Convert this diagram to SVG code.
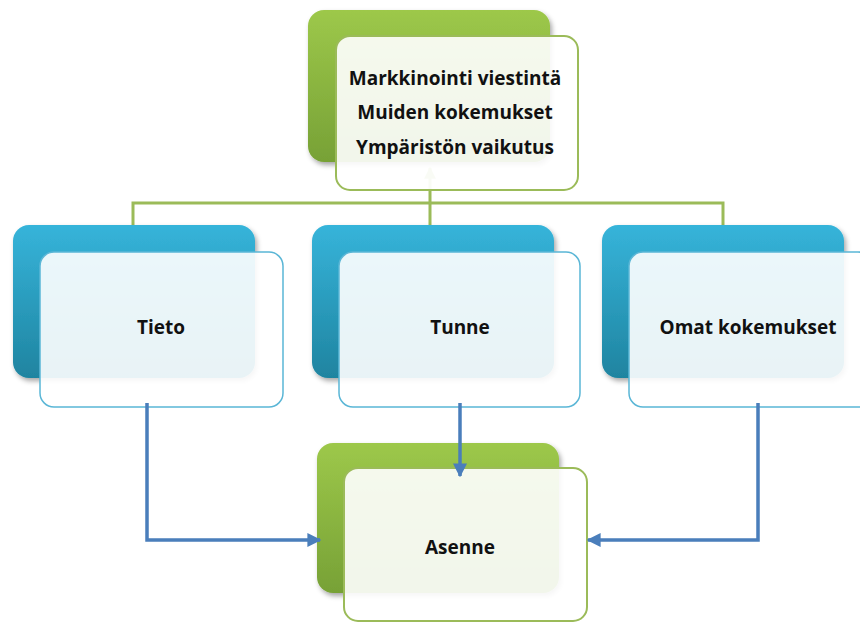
<svg xmlns="http://www.w3.org/2000/svg" width="860" height="624" viewBox="0 0 860 624">
<defs>
<linearGradient id="gGreen" x1="0" y1="0" x2="0" y2="1"><stop offset="0" stop-color="#9dc84a"/><stop offset="1" stop-color="#77a136"/></linearGradient>
<linearGradient id="gBlue" x1="0" y1="0" x2="0" y2="1"><stop offset="0" stop-color="#36b4da"/><stop offset="1" stop-color="#1f84a0"/></linearGradient>
<filter id="sh" x="-10%" y="-10%" width="125%" height="125%"><feDropShadow dx="2" dy="3" stdDeviation="2.5" flood-color="#000" flood-opacity="0.35"/></filter>
<marker id="ah" viewBox="0 0 10 10" refX="9" refY="5" markerWidth="4" markerHeight="4" orient="auto" markerUnits="strokeWidth"><path d="M0,0 L10,5 L0,10 z" fill="#4a7ebb"/></marker>
<marker id="ahg" viewBox="0 0 10 10" refX="9" refY="5" markerWidth="4" markerHeight="4" orient="auto" markerUnits="strokeWidth"><path d="M0,0 L10,5 L0,10 z" fill="#9bbb59"/></marker>
<style>
.bg{fill:url(#gGreen);filter:url(#sh)}
.bb{fill:url(#gBlue);filter:url(#sh)}
.fg{fill:#ffffff;fill-opacity:0.9;stroke:#9bbb59;stroke-width:2}
.fb{fill:#ffffff;fill-opacity:0.9;stroke:#5ab6d6;stroke-width:1.5}
.t{font-family:"Open Sans","Liberation Sans",sans-serif;font-weight:bold;font-size:19px;fill:#111;text-anchor:middle}
.cg{fill:none;stroke:#9bbb59;stroke-width:3}
.cb{fill:none;stroke:#4a7ebb;stroke-width:3.5}
</style>
</defs>
<g id="connectors-top">
<path class="cg" d="M430,190 V203 M133,225 V203 H723 V225 M430,203 V225"/>
<path class="cg" d="M430,190 V168" marker-end="url(#ahg)" opacity="0.6"/>
</g>
<g id="node-top">
<rect class="bg" x="308" y="10" width="242" height="152" rx="16"/>
<rect class="fg" x="336" y="36" width="242" height="154" rx="14"/>
<text class="t" x="455" y="85">Markkinointi viestintä</text>
<text class="t" x="455" y="119">Muiden kokemukset</text>
<text class="t" x="455" y="154">Ympäristön vaikutus</text>
</g>
<g id="node-tieto">
<rect class="bb" x="13" y="225" width="242" height="153" rx="16"/>
<rect class="fb" x="40" y="252" width="243" height="155" rx="14"/>
<text class="t" x="161" y="334">Tieto</text>
</g>
<g id="node-tunne">
<rect class="bb" x="312" y="225" width="242" height="153" rx="16"/>
<rect class="fb" x="339" y="252" width="241" height="155" rx="14"/>
<text class="t" x="460" y="334">Tunne</text>
</g>
<g id="node-omat">
<rect class="bb" x="602" y="225" width="242" height="153" rx="16"/>
<rect class="fb" x="629" y="252" width="243" height="155" rx="14"/>
<text class="t" x="748" y="334">Omat kokemukset</text>
</g>
<g id="node-asenne">
<rect class="bg" x="317" y="443" width="242" height="150" rx="16"/>
<rect class="fg" x="344" y="468" width="243" height="153" rx="14"/>
<text class="t" x="460" y="554">Asenne</text>
</g>
<g id="connectors">
<path class="cb" d="M147,403 V540 H320" marker-end="url(#ah)"/>
<path class="cb" d="M460,403 V476" marker-end="url(#ah)"/>
<path class="cb" d="M758,403 V540 H588" marker-end="url(#ah)"/>
</g>
</svg>
